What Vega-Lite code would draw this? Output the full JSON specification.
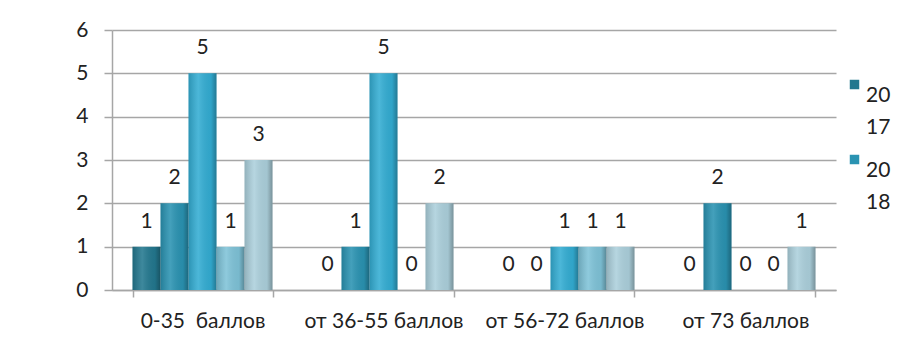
{
  "$schema": "https://vega.github.io/schema/vega-lite/v6.json",
  "width": 724,
  "height": 260,
  "autosize": {"type": "none"},
  "padding": {"left": 112, "top": 30, "right": 65, "bottom": 55},
  "background": "white",
  "config": {
    "font": "Lato",
    "view": {"stroke": null},
    "style": {"guide-label": {"lineHeight": 32}}
  },
  "data": {
    "values": [
      {"cat": "0-35\u00a0 баллов", "year": "2017", "value": 1},
      {"cat": "0-35\u00a0 баллов", "year": "2018", "value": 2},
      {"cat": "0-35\u00a0 баллов", "year": "2019", "value": 5},
      {"cat": "0-35\u00a0 баллов", "year": "2020", "value": 1},
      {"cat": "0-35\u00a0 баллов", "year": "2021", "value": 3},
      {"cat": "от 36-55 баллов", "year": "2017", "value": 0},
      {"cat": "от 36-55 баллов", "year": "2018", "value": 1},
      {"cat": "от 36-55 баллов", "year": "2019", "value": 5},
      {"cat": "от 36-55 баллов", "year": "2020", "value": 0},
      {"cat": "от 36-55 баллов", "year": "2021", "value": 2},
      {"cat": "от 56-72 баллов", "year": "2017", "value": 0},
      {"cat": "от 56-72 баллов", "year": "2018", "value": 0},
      {"cat": "от 56-72 баллов", "year": "2019", "value": 1},
      {"cat": "от 56-72 баллов", "year": "2020", "value": 1},
      {"cat": "от 56-72 баллов", "year": "2021", "value": 1},
      {"cat": "от 73 баллов", "year": "2017", "value": 0},
      {"cat": "от 73 баллов", "year": "2018", "value": 2},
      {"cat": "от 73 баллов", "year": "2019", "value": 0},
      {"cat": "от 73 баллов", "year": "2020", "value": 0},
      {"cat": "от 73 баллов", "year": "2021", "value": 1}
    ]
  },
  "encoding": {
    "x": {
      "field": "cat",
      "type": "nominal",
      "sort": null,
      "scale": {"paddingInner": 0.2265, "paddingOuter": 0.1133},
      "axis": {
        "title": null,
        "labelAngle": 0,
        "labelFontSize": 21,
        "labelColor": "#222222",
        "labelPadding": 13,
        "tickBand": "extent",
        "tickSize": 7,
        "tickColor": "#a6a6a6",
        "tickWidth": 1.5,
        "domainColor": "#a6a6a6",
        "domainWidth": 1.5,
        "grid": false
      }
    },
    "xOffset": {"field": "year", "type": "nominal", "scale": {"paddingInner": 0, "paddingOuter": 0}},
    "y": {
      "field": "value",
      "type": "quantitative",
      "scale": {"domain": [0, 6]},
      "axis": {
        "title": null,
        "values": [0, 1, 2, 3, 4, 5, 6],
        "labelFontSize": 21,
        "labelColor": "#222222",
        "labelPadding": 16,
        "tickSize": 8,
        "tickColor": "#a6a6a6",
        "tickWidth": 1.5,
        "gridColor": "#a6a6a6",
        "gridWidth": 1.5,
        "domainColor": "#a6a6a6",
        "domainWidth": 1.5
      }
    }
  },
  "layer": [
    {
      "mark": {"type": "bar"},
      "encoding": {
        "color": {
          "field": "year",
          "type": "nominal",
          "scale": {
            "domain": ["2017", "2018", "2019", "2020", "2021"],
            "range": ["#23788f", "#2a93b2", "#33add3", "#7fc3d8", "#acd0dc"]
          },
          "legend": {
            "values": ["2017", "2018"],
            "orient": "none",
            "legendX": 732,
            "legendY": 44,
            "title": null,
            "symbolType": "square",
            "symbolSize": 90,
            "symbolStrokeWidth": 0,
            "labelFontSize": 21,
            "labelColor": "#222222",
            "labelOffset": 1,
            "labelExpr": "[slice(datum.label, 0, 2), slice(datum.label, 2)]",
            "labelBaseline": "top",
            "rowPadding": 11
          }
        }
      }
    },
    {
      "mark": {
        "type": "bar",
        "fill": {
          "gradient": "linear",
          "x1": 0, "y1": 0, "x2": 1, "y2": 0,
          "stops": [
            {"offset": 0, "color": "rgba(0,0,0,0.15)"},
            {"offset": 0.35, "color": "rgba(255,255,255,0.12)"},
            {"offset": 0.8, "color": "rgba(0,0,0,0.05)"},
            {"offset": 1, "color": "rgba(0,0,0,0.3)"}
          ]
        }
      }
    },
    {
      "mark": {"type": "text", "baseline": "bottom", "dy": -15, "fontSize": 21, "color": "#222222"},
      "encoding": {"text": {"field": "value", "type": "quantitative"}}
    }
  ]
}
